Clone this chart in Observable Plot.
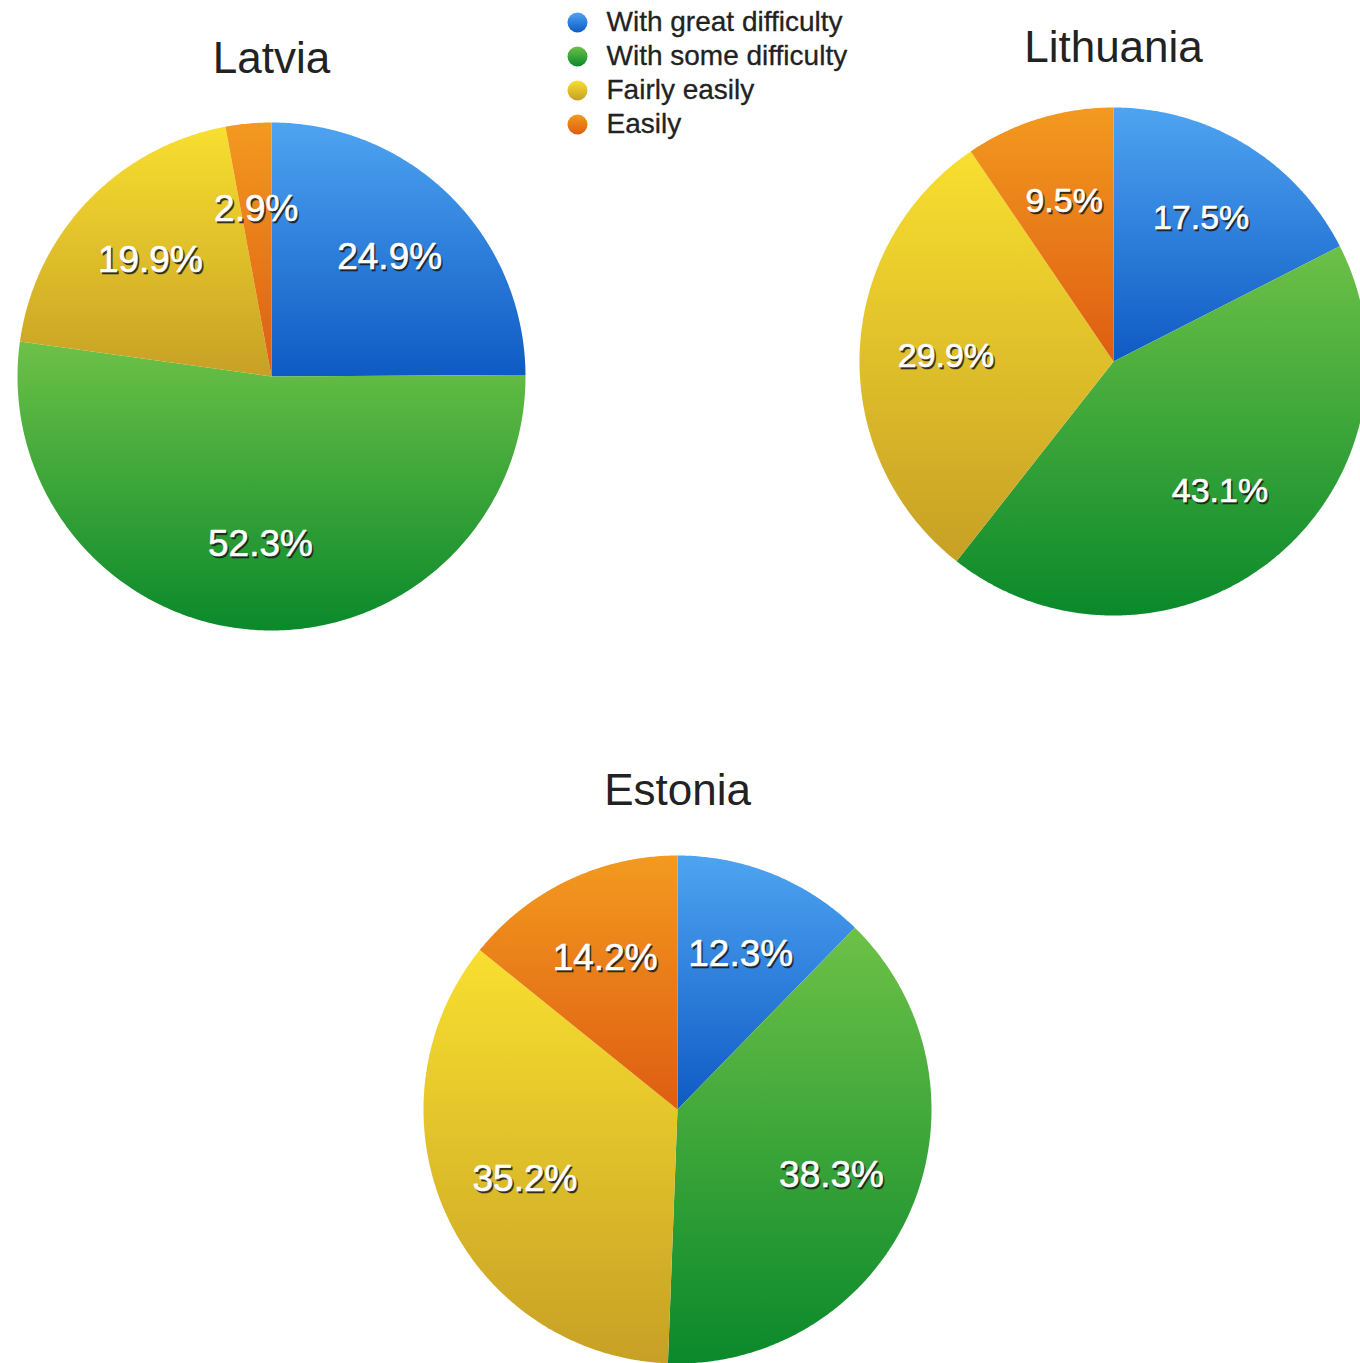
<!DOCTYPE html>
<html>
<head>
<meta charset="utf-8">
<script src="https://cdn.jsdelivr.net/npm/d3@7"></script>
<script src="https://cdn.jsdelivr.net/npm/@observablehq/plot@0.6"></script>
<style>
  html, body { margin: 0; padding: 0; background: #fff; }
  svg { display: block; }
</style>
</head>
<body>
<div id="chart"></div>
<script>
// ---- data ----
const categories = ["With great difficulty", "With some difficulty", "Fairly easily", "Easily"];
const countries = ["Latvia", "Lithuania", "Estonia"];
const latviaValues = [24.9, 52.3, 19.9, 2.9];
const lithuaniaValues = [17.5, 43.1, 29.9, 9.5];
const estoniaValues = [12.3, 38.3, 35.2, 14.2];

// ---- layout / style (not data) ----
const W = 1360, H = 1363;
const layout = {
  Latvia:    {cx: 271,  cy: 376,  r: 254, titleY: 58,  labelSize: 37},
  Lithuania: {cx: 1113, cy: 361,  r: 254, titleY: 47,  labelSize: 34},
  Estonia:   {cx: 677,  cy: 1109, r: 254, titleY: 790, labelSize: 37}
};
const gradStops = [
  ["#4ea4f1", "#0e5ac4"],
  ["#6dc147", "#0a892b"],
  ["#f8df2f", "#c7a025"],
  ["#f39a1f", "#de5d12"]
];
const valuesBy = {Latvia: latviaValues, Lithuania: lithuaniaValues, Estonia: estoniaValues};
const FONT = "Liberation Sans, Arial, sans-serif";

// build slice polygons & labels from the data
const sliceMarks = [];
const labels = [];
countries.forEach(country => {
  const vals = valuesBy[country];
  const total = d3.sum(vals);
  const {cx, cy, r, labelSize} = layout[country];
  let acc = 0;
  vals.forEach((v, i) => {
    const a0 = acc / total * 2 * Math.PI;
    acc += v;
    const a1 = acc / total * 2 * Math.PI;
    const pts = [{x: cx, y: cy}];
    const n = Math.max(2, Math.ceil((a1 - a0) / (Math.PI / 360)));
    for (let k = 0; k <= n; k++) {
      const a = a0 + (a1 - a0) * k / n;
      pts.push({x: cx + r * Math.sin(a), y: cy - r * Math.cos(a)});
    }
    pts.push({x: cx, y: cy});
    sliceMarks.push(Plot.line(pts, {x: "x", y: "y", fill: `url(#grad${i})`, stroke: "none", curve: "linear"}));
    const am = (a0 + a1) / 2;
    const lr = r * 0.66;
    labels.push({x: cx + lr * Math.sin(am), y: cy - lr * Math.cos(am), text: v.toFixed(1) + "%", size: labelSize});
  });
});

const titles = countries.map(c => ({x: layout[c].cx, y: layout[c].titleY, text: c}));
const legend = categories.map((c, i) => ({x: 577, y: 22 + i * 34, text: c, i}));

const labelMarks = [];
[37, 34].forEach(sz => {
  const sub = labels.filter(d => d.size === sz);
  labelMarks.push(Plot.text(sub, {x: "x", y: "y", text: "text", fill: "#1a1a1a", fillOpacity: 0.85, stroke: "#1a1a1a", strokeOpacity: 0.5, strokeWidth: 1, dx: 1.5, dy: 2, fontSize: sz, fontFamily: FONT, letterSpacing: -1.2}));
  labelMarks.push(Plot.text(sub, {x: "x", y: "y", text: "text", fill: "#fff", stroke: "#fff", strokeWidth: 0.6, fontSize: sz, fontFamily: FONT, letterSpacing: -1.2}));
});

const chart = Plot.plot({
  width: W, height: H,
  margin: 0,
  x: {type: "linear", domain: [0, W], range: [0, W], axis: null},
  y: {type: "linear", domain: [0, H], range: [0, H], axis: null},
  style: {background: "#fff", overflow: "hidden"},
  marks: [
    ...sliceMarks,
    ...labelMarks,
    Plot.text(titles, {x: "x", y: "y", text: "text", fontSize: 44, fill: "#222", fontFamily: FONT}),
    ...legend.map(d => Plot.dot([d], {x: "x", y: "y", r: 10, fill: `url(#grad${d.i})`, stroke: "none"})),
    Plot.text(legend, {x: d => d.x + 29, y: "y", text: "text", textAnchor: "start", fontSize: 28, fill: "#222", stroke: "#222", strokeWidth: 0.3, fontFamily: FONT, letterSpacing: -0.3})
  ]
});

// gradient defs
const ns = "http://www.w3.org/2000/svg";
const defs = document.createElementNS(ns, "defs");
gradStops.forEach(([c0, c1], i) => {
  const g = document.createElementNS(ns, "linearGradient");
  g.setAttribute("id", "grad" + i);
  g.setAttribute("x1", "0"); g.setAttribute("y1", "0");
  g.setAttribute("x2", "0"); g.setAttribute("y2", "1");
  [[0, c0], [1, c1]].forEach(([o, c]) => {
    const s = document.createElementNS(ns, "stop");
    s.setAttribute("offset", o);
    s.setAttribute("stop-color", c);
    g.appendChild(s);
  });
  defs.appendChild(g);
});
chart.insertBefore(defs, chart.firstChild);
document.getElementById("chart").appendChild(chart);
</script>
</body>
</html>
